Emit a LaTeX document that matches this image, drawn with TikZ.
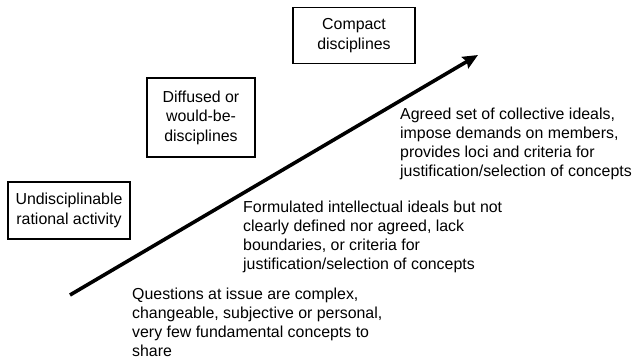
\documentclass[tikz,border=0pt]{standalone}
\usepackage{fontspec}
\setmainfont{Liberation Sans}
\usetikzlibrary{arrows.meta, positioning}

\begin{document}
\begin{tikzpicture}[x=1pt, y=-1pt,
  stage/.style={draw, line width=1.3pt, align=center, inner sep=0pt,
    font=\fontsize{15.9}{19.5}\selectfont},
  note/.style={anchor=north west, align=left, inner sep=0pt,
    font=\fontsize{15.9}{19}\selectfont}]
\useasboundingbox (0,0) rectangle (633,362);

% 段階の箱
\node[stage, minimum width=122pt, minimum height=56pt] (compact) at (354,35.5) {Compact\\disciplines};
\node[stage, minimum width=108pt, minimum height=79pt] (diffused) at (201,117.5) {Diffused or\\would-be-\\disciplines};
\node[stage, minimum width=122pt, minimum height=57pt] (undisc) at (69,210.5) {Undisciplinable\\rational activity};

% 矢印
\coordinate (low) at (70,295);
\coordinate (high) at (478,55);
\draw[line width=3.6pt, -{Stealth[length=15pt, width=13pt, inset=2pt]}] (low) -- (high);

% 説明
\node[note] (agreed) at (400,108) {Agreed set of collective ideals,\\impose demands on members,\\provides loci and criteria for\\justification/selection of concepts};
\node[note] (formulated) at (243,201) {Formulated intellectual ideals but not\\clearly defined nor agreed, lack\\boundaries, or criteria for\\justification/selection of concepts};
\node[note] (questions) at (132,288) {Questions at issue are complex,\\changeable, subjective or personal,\\very few fundamental concepts to\\share};

\end{tikzpicture}
\end{document}
